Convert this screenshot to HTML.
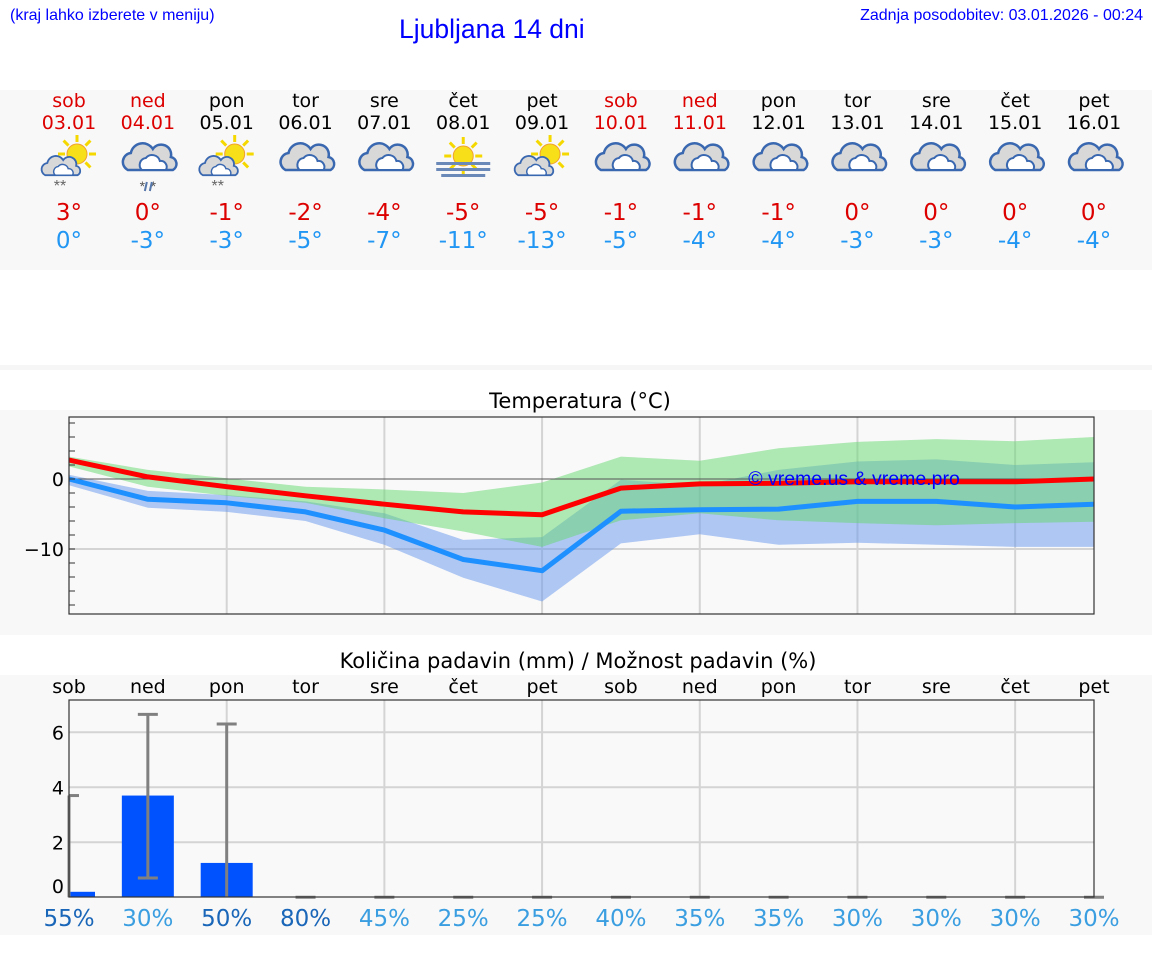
<!DOCTYPE html>
<html><head><meta charset="utf-8">
<style>
body{margin:0;width:1152px;height:975px;background:#fff;position:relative;overflow:hidden;font-family:"Liberation Sans",sans-serif}
.a{position:absolute}
</style></head>
<body>
<div class="a" style="left:10px;top:7px;font-size:16px;color:#00f">(kraj lahko izberete v meniju)</div>
<div class="a" style="left:399px;top:14px;font-size:26.5px;color:#00f">Ljubljana 14 dni</div>
<div class="a" style="right:9px;top:7px;font-size:16px;color:#00f">Zadnja posodobitev: 03.01.2026 - 00:24</div>
<div class="a" style="left:0;top:90px;width:1152px;height:180px;background:#f8f8f8"></div>
<div class="a" style="left:0;top:365px;width:1152px;height:5px;background:#f6f6f6"></div>
<div class="a" style="left:0;top:410px;width:1152px;height:225px;background:#f8f8f8"></div>
<div class="a" style="left:0;top:675px;width:1152px;height:260px;background:#f8f8f8"></div>
<svg id="s" class="a" style="left:0;top:0" width="1152" height="975"></svg>
<script>
const days=["sob","ned","pon","tor","sre","čet","pet","sob","ned","pon","tor","sre","čet","pet"];
const dates=["03.01","04.01","05.01","06.01","07.01","08.01","09.01","10.01","11.01","12.01","13.01","14.01","15.01","16.01"];
const weekend=[1,1,0,0,0,0,0,1,1,0,0,0,0,0];
const icons=["sunsnow","snow","sunsnow","cloud","cloud","fog","suncloud","cloud","cloud","cloud","cloud","cloud","cloud","cloud"];
const tmaxLbl=[3,0,-1,-2,-4,-5,-5,-1,-1,-1,0,0,0,0];
const tminLbl=[0,-3,-3,-5,-7,-11,-13,-5,-4,-4,-3,-3,-4,-4];
const tmax=[2.7,0.3,-1.1,-2.4,-3.6,-4.7,-5.1,-1.3,-0.7,-0.6,-0.4,-0.4,-0.4,0];
const tmin=[0,-2.9,-3.4,-4.7,-7.3,-11.5,-13.1,-4.6,-4.4,-4.3,-3.2,-3.2,-4.0,-3.6];
const maxHi=[3.2,1.3,0.1,-1.1,-1.5,-2.0,-0.5,3.2,2.6,4.4,5.3,5.7,5.4,6.0];
const maxLo=[1.8,-1.1,-2.4,-3.4,-5.6,-7.5,-9.7,-5.9,-4.9,-5.9,-6.3,-6.6,-6.3,-6.1];
const minHi=[0.6,-1.7,-2.3,-3.2,-4.9,-8.7,-8.3,-0.1,-0.9,1.3,2.5,2.8,2.0,2.4];
const minLo=[-0.9,-4.1,-4.7,-6.0,-9.4,-14.1,-17.5,-9.2,-7.9,-9.4,-9.1,-9.4,-9.7,-9.7];
const precip=[0.2,3.7,1.25,0,0,0,0,0,0,0,0,0,0,0];
const errLo=[0,0.7,0,0,0,0,0,0,0,0,0,0,0,0];
const errHi=[3.7,6.65,6.3,0,0,0,0,0,0,0,0,0,0,0];
const chance=[55,30,50,80,45,25,25,40,35,35,30,30,30,30];
const tempTicks=[0,-10];
const precTicks=[0,2,4,6];

const S=document.getElementById('s'),NS="http://www.w3.org/2000/svg";
function el(t,a,p){const e=document.createElementNS(NS,t);for(const k in a)e.setAttribute(k,a[k]);(p||S).appendChild(e);return e;}
const X=i=>69+i*(1025/13);
const TY=v=>479-v*7;
const PY=v=>897.3-v*27.5;
for(let i=0;i<14;i++){
  const c=X(i),col=weekend[i]?"#d00":"#000";
  let t=el('text',{x:c,y:107,'text-anchor':'middle','font-size':19,'font-family':'DejaVu Sans,sans-serif',fill:col});t.textContent=days[i];
  
  t=el('text',{x:c,y:129,'text-anchor':'middle','font-size':19,'font-family':'DejaVu Sans,sans-serif',fill:col});t.textContent=dates[i];
  
  t=el('text',{x:c,y:220,'text-anchor':'middle','font-size':23,'font-family':'DejaVu Sans,sans-serif',fill:'#d00'});t.textContent=tmaxLbl[i]+"°";
  
  t=el('text',{x:c,y:248,'text-anchor':'middle','font-size':23,'font-family':'DejaVu Sans,sans-serif',fill:'#2196f3'});t.textContent=tminLbl[i]+"°";
  
  const g=el('g',{transform:`translate(${c},160)`});
  
  const ic=icons[i];
  function sun(x,y,r){for(let k=0;k<8;k++){const a=k*Math.PI/4;el('line',{x1:x+Math.cos(a)*(r+2),y1:y+Math.sin(a)*(r+2),x2:x+Math.cos(a)*(r+9),y2:y+Math.sin(a)*(r+9),stroke:'#f5d800','stroke-width':3},g);}el('circle',{cx:x,cy:y,r:r,fill:'#f7e01a',stroke:'#f0a030','stroke-width':1},g);}
  function cloud(x,y,s){const p=el('g',{transform:`translate(${x},${y}) scale(${s})`},g);el('path',{d:`M-22,10 a9 9 0 0 1 3 -17 a12 12 0 0 1 22 -4 a10 10 0 0 1 18 8 a7 7 0 0 1 2 13 z`,fill:'#d8d8d8',stroke:'#3a68b0','stroke-width':2.5},p);el('path',{d:`M-8,10 a7 7 0 0 1 4 -12 a8 8 0 0 1 14 3 a6 6 0 0 1 6 9 z`,fill:'#fff',stroke:'#3a68b0','stroke-width':2},p);}
  if(ic=="sunsnow"||ic=="suncloud"){sun(8,-6,10);cloud(-8,8,0.72);}
  if(ic=="sunsnow"){let s=el('text',{x:-9,y:31,'text-anchor':'middle','font-size':16,fill:'#666'},g);s.textContent="**";}
  if(ic=="snow"){cloud(2,0,1);let s=el('text',{x:0,y:31,'text-anchor':'middle','font-size':14,fill:'#555'},g);s.textContent="*\u2009\u2009*";el('line',{x1:-1,y1:22,x2:-3,y2:31,stroke:'#5577aa','stroke-width':2},g);el('line',{x1:4,y1:22,x2:2,y2:31,stroke:'#5577aa','stroke-width':2},g);}
  if(ic=="cloud")cloud(2,0,1);
  if(ic=="fog"){sun(0,-4,10);for(const [yy,w] of [[2,27],[8,27],[14,22]])el('rect',{x:-w,y:yy,width:2*w,height:3,fill:'#6a88b8'},g);}
}
let t=el('text',{x:580,y:408,'text-anchor':'middle','font-size':21,'font-family':'DejaVu Sans,sans-serif'});t.textContent="Temperatura (°C)";

el('rect',{x:69,y:417,width:1025,height:197,fill:'#f9f9f9'});
for(let i=2;i<14;i+=2)el('line',{x1:X(i),y1:417,x2:X(i),y2:614,stroke:'#d4d4d4','stroke-width':2});
el('line',{x1:69,y1:TY(-10),x2:1094,y2:TY(-10),stroke:'#d4d4d4','stroke-width':2});
function band(hi,lo,fill,name){let d="M"+hi.map((v,i)=>X(i)+","+TY(v)).join(" L")+" L"+lo.map((v,i)=>X(i)+","+TY(v)).reverse().join(" L")+"Z";const p=el('path',{d:d,fill:fill});}
band(minHi,minLo,'rgba(100,149,237,0.5)','min-range-band');
band(maxHi,maxLo,'rgba(100,215,110,0.5)','max-range-band');
el('line',{x1:69,y1:TY(0),x2:1094,y2:TY(0),stroke:'#555','stroke-width':1});
function line(v,col,name){const p=el('polyline',{points:v.map((y,i)=>X(i)+","+TY(y)).join(" "),fill:'none',stroke:col,'stroke-width':5,'stroke-linejoin':'round'});}
line(tmin,'#1e90ff','min-temp-line');line(tmax,'#ff0000','max-temp-line');
t=el('text',{x:854,y:485,'text-anchor':'middle','font-size':19.5,'font-family':'Liberation Sans,sans-serif',fill:'#00f'});t.textContent="© vreme.us & vreme.pro";

el('rect',{x:69,y:417,width:1025,height:197,fill:'none',stroke:'#333','stroke-width':1.2});
for(let v=8;v>=-18;v-=2)el('line',{x1:69,y1:TY(v),x2:75,y2:TY(v),stroke:'#333'});
tempTicks.forEach(v=>{const t=el('text',{x:64,y:TY(v)+7,'text-anchor':'end','font-size':19,'font-family':'DejaVu Sans,sans-serif'});t.textContent=v<0?"\u2212"+(-v):v;});
t=el('text',{x:578,y:668,'text-anchor':'middle','font-size':21,'font-family':'DejaVu Sans,sans-serif'});t.textContent="Količina padavin (mm) / Možnost padavin (%)";

el('rect',{x:69,y:700,width:1025,height:197,fill:'#f9f9f9'});
for(let i=2;i<14;i+=2)el('line',{x1:X(i),y1:700,x2:X(i),y2:897,stroke:'#d4d4d4','stroke-width':2});
precTicks.forEach(v=>{if(v>0)el('line',{x1:69,y1:PY(v),x2:1094,y2:PY(v),stroke:'#d4d4d4','stroke-width':2});const t=el('text',{x:64,y:Math.min(PY(v)+7,893),'text-anchor':'end','font-size':19,'font-family':'DejaVu Sans,sans-serif'});t.textContent=v;});
for(let i=0;i<14;i++){
  const c=X(i);
  let t=el('text',{x:c,y:693,'text-anchor':'middle','font-size':19,'font-family':'DejaVu Sans,sans-serif'});t.textContent=days[i];
  
  if(precip[i]>0){const x0=Math.max(69,c-26),x1=c+26;const r=el('rect',{x:x0,y:PY(precip[i]),width:x1-x0,height:PY(0)-PY(precip[i]),fill:'#0052ff'});}
  const g=el('g',{stroke:'#808080','stroke-width':3});
  const cl=Math.max(69,c-10);
  if(errHi[i]>errLo[i])el('line',{x1:c,y1:PY(errHi[i]),x2:c,y2:PY(errLo[i])},g);
  el('line',{x1:cl,y1:PY(errHi[i]),x2:c+10,y2:PY(errHi[i])},g);
  if(errLo[i]>0)el('line',{x1:cl,y1:PY(errLo[i]),x2:c+10,y2:PY(errLo[i])},g);
  const dark=chance[i]>=50;
  t=el('text',{x:c,y:926,'text-anchor':'middle','font-size':23,'font-family':'DejaVu Sans,sans-serif',fill:dark?'#1a66b8':'#3a9ee0'});t.textContent=chance[i]+"%";
  
}
el('rect',{x:69,y:700,width:1025,height:197,fill:'none',stroke:'#333','stroke-width':1.2});
</script>
</body></html>
